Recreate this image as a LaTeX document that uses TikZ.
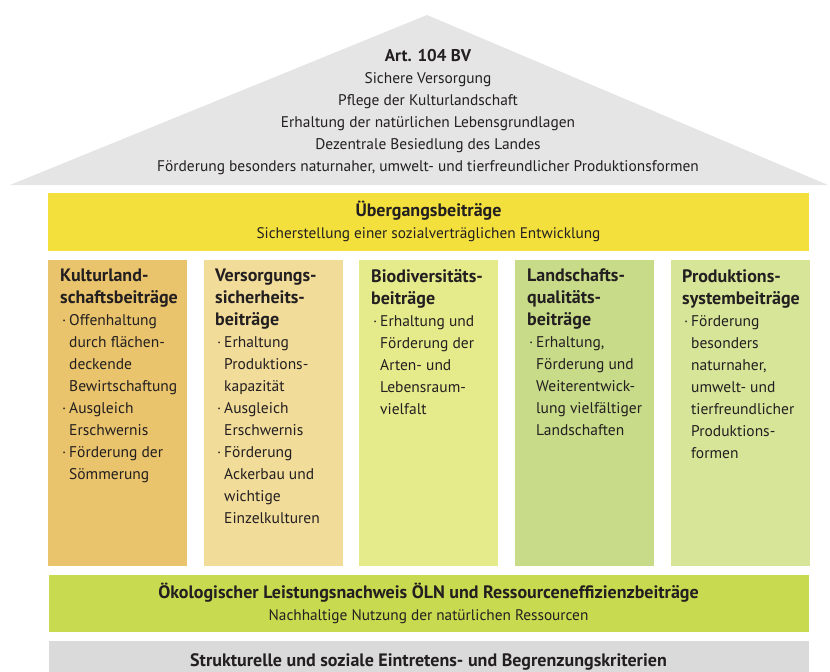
\documentclass[tikz,border=0pt]{standalone}
\usepackage{fontspec}
\setmainfont{PT Sans}
\definecolor{roofgray}{HTML}{E5E5E5}
\definecolor{uebyellow}{HTML}{F3E03D}
\definecolor{colA}{HTML}{E9C46C}
\definecolor{colB}{HTML}{F1DC9A}
\definecolor{colC}{HTML}{E5EB8B}
\definecolor{colD}{HTML}{C7DB88}
\definecolor{colE}{HTML}{D7E598}
\definecolor{olngreen}{HTML}{C8DA50}
\definecolor{basegray}{HTML}{DADADA}
\definecolor{txt}{HTML}{231F20}
\newcommand{\bul}{\hspace*{2pt}\makebox[7pt][l]{·}}
\newcommand{\ind}{\hspace*{9pt}}
\newcommand{\hd}[1]{{\fontsize{18}{22}\selectfont\bfseries #1}}
\begin{document}
\begin{tikzpicture}[x=1pt,y=-1pt,
  bar/.style={draw=none,inner sep=0,outer sep=0},
  pillar/.style={bar,minimum width=139,minimum height=306},
  coltext/.style={anchor=north west,inner sep=0,align=left,text=txt,font=\fontsize{15.5}{22}\selectfont},
  centertext/.style={inner sep=0,align=center,text=txt,font=\fontsize{15.3}{21.5}\selectfont}]
\useasboundingbox (0,0) rectangle (830,672);
% roof
\fill[roofgray] (10,185) -- (427,15) -- (828,185) -- cycle;
\node[centertext,font=\fontsize{15.4}{22}\selectfont,anchor=north] (roof) at (428,49)
  {{\fontsize{17}{22}\selectfont\bfseries Art. 104 BV}\\Sichere Versorgung\\Pflege der Kulturlandschaft\\Erhaltung der natürlichen Lebensgrundlagen\\Dezentrale Besiedlung des Landes\\Förderung besonders naturnaher, umwelt- und tierfreundlicher Produktionsformen};
% Übergangsbeiträge
\node[bar,fill=uebyellow,minimum width=761,minimum height=58] (ueb) at (428.5,221.5) {};
\node[centertext] (uebt) at (ueb.center) {\hd{Übergangsbeiträge}\\Sicherstellung einer sozialverträglichen Entwicklung};
% pillars
\node[pillar,fill=colA,anchor=north west] (c1) at (48,260) {};
\node[pillar,fill=colB,anchor=north west] (c2) at (204,260) {};
\node[pillar,fill=colC,anchor=north west] (c3) at (359,260) {};
\node[pillar,fill=colD,anchor=north west] (c4) at (515,260) {};
\node[pillar,fill=colE,anchor=north west] (c5) at (671,260) {};
\node[coltext] (t1) at ([xshift=12,yshift=-9]c1.north west)
  {\hd{Kulturland-}\\\hd{schaftsbeiträge}\\\bul Offenhaltung\\\ind durch flächen-\\\ind deckende\\\ind Bewirtschaftung\\\bul Ausgleich\\\ind Erschwernis\\\bul Förderung der\\\ind Sömmerung};
\node[coltext] (t2) at ([xshift=11,yshift=-9]c2.north west)
  {\hd{Versorgungs-}\\\hd{sicherheits-}\\\hd{beiträge}\\\bul Erhaltung\\\ind Produktions-\\\ind kapazität\\\bul Ausgleich\\\ind Erschwernis\\\bul Förderung\\\ind Ackerbau und\\\ind wichtige\\\ind Einzelkulturen};
\node[coltext] (t3) at ([xshift=12,yshift=-9]c3.north west)
  {\hd{Biodiversitäts-}\\\hd{beiträge}\\\bul Erhaltung und\\\ind Förderung der\\\ind Arten- und\\\ind Lebensraum-\\\ind vielfalt};
\node[coltext] (t4) at ([xshift=12,yshift=-9]c4.north west)
  {\hd{Landschafts-}\\\hd{qualitäts-}\\\hd{beiträge}\\\bul Erhaltung,\\\ind Förderung und\\\ind Weiterentwick-\\\ind lung vielfältiger\\\ind Landschaften};
\node[coltext] (t5) at ([xshift=11,yshift=-9]c5.north west)
  {\hd{Produktions-}\\\hd{systembeiträge}\\\bul Förderung\\\ind besonders\\\ind naturnaher,\\\ind umwelt- und\\\ind tierfreundlicher\\\ind Produktions-\\\ind formen};
% ÖLN
\node[bar,fill=olngreen,minimum width=760,minimum height=57] (oln) at (428.5,603.5) {};
\node[centertext] (olnt) at (oln.center) {\hd{Ökologischer Leistungsnachweis ÖLN und Ressourceneffizienzbeiträge}\\Nachhaltige Nutzung der natürlichen Ressourcen};
% base
\node[bar,fill=basegray,minimum width=760,minimum height=40,anchor=north] (base) at (428.5,641) {};
\node[centertext,anchor=base] (baset) at (428.5,666) {\hd{Strukturelle und soziale Eintretens- und Begrenzungskriterien}};
\end{tikzpicture}
\end{document}
